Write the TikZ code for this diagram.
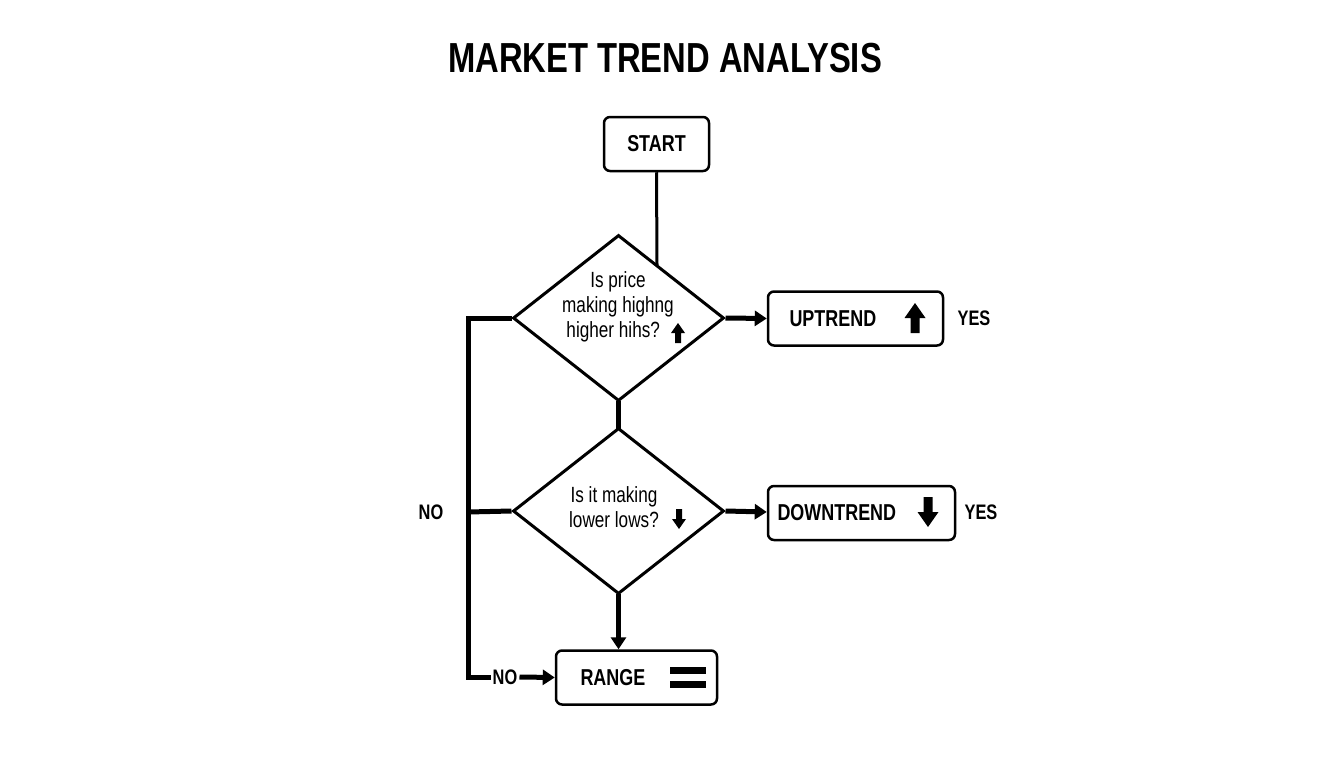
\documentclass[tikz,border=0pt]{standalone}
\usepackage{fontspec}
\setmainfont[FakeStretch=0.78]{Liberation Sans}
\usetikzlibrary{shapes.geometric,arrows.meta,calc}
\begin{document}
\begin{tikzpicture}[x=1pt,y=-1pt,
  box/.style={draw,line width=2.5pt,rounded corners=6pt,minimum height=54pt,inner sep=0pt},
  dia/.style={draw,line width=3pt,diamond,minimum width=211pt,minimum height=166pt,aspect=1.27,inner sep=0pt},
  conn/.style={line width=5pt},
  arr/.style={conn,-{Triangle[length=12pt,width=15pt]}},
  lbl/.style={font=\fontsize{23}{24}\selectfont\bfseries},
  small/.style={font=\fontsize{22}{25}\selectfont,align=center}]
\useasboundingbox (0,0) rectangle (1344,768);
\fill[white] (0,0) rectangle (1344,768);
\newcommand{\uparr}[3]{\fill (#1-#3*0.35,#2) -- (#1,#2-#3*0.5) -- (#1+#3*0.35,#2) -- (#1+#3*0.15,#2) -- (#1+#3*0.15,#2+#3*0.5) -- (#1-#3*0.15,#2+#3*0.5) -- (#1-#3*0.15,#2) -- cycle;}
\newcommand{\dnarr}[3]{\fill (#1-#3*0.35,#2) -- (#1,#2+#3*0.5) -- (#1+#3*0.35,#2) -- (#1+#3*0.15,#2) -- (#1+#3*0.15,#2-#3*0.5) -- (#1-#3*0.15,#2-#3*0.5) -- (#1-#3*0.15,#2) -- cycle;}
\node[font=\fontsize{42}{44}\selectfont\bfseries] (title) at (665,58) {MARKET TREND ANALYSIS};
\node[box,minimum width=105pt,lbl] (start) at (656.5,144) {START};
\node[dia] (d1) at (618.5,318) {};
\node[small] (q1) at (618,307) {Is price\\making highng\\higher hihs?\phantom{II}};
\uparr{678}{333}{20}
\node[dia] (d2) at (618.5,511) {};
\node[small] (q2) at (614,507) {Is it making\\ \ lower lows?\phantom{I}};
\dnarr{679}{519}{20}
\node[box,minimum width=175pt] (up) at (855.5,318.5) {};
\node[lbl,anchor=west] (upt) at (786,318.5) {UPTREND};
\uparr{915}{318}{30}
\node[box,minimum width=187pt] (down) at (861.5,513) {};
\node[lbl,anchor=west] (downt) at (774,513) {DOWNTREND};
\dnarr{928}{512}{30}
\node[box,minimum width=161pt] (range) at (636.5,677.5) {};
\node[lbl,anchor=west] (ranget) at (577,677.5) {RANGE};
\fill (670,667) rectangle (706,674);
\fill (670,681) rectangle (706,688);
\node[lbl,font=\fontsize{21}{22}\selectfont\bfseries] (yes1) at (974,318) {YES};
\node[lbl,font=\fontsize{21}{22}\selectfont\bfseries] (yes2) at (981,512) {YES};
\node[lbl,font=\fontsize{21}{22}\selectfont\bfseries] (no1) at (431,512) {NO};
\node[lbl,font=\fontsize{21}{22}\selectfont\bfseries,inner sep=2pt] (no2) at (505,677) {NO};
\coordinate (j) at (657,265);
\draw[line width=3pt] (start.south) -- (j);
\draw[conn] ($(d1.south)+(0,-2)$) -- ($(d2.north)+(0,2)$);
\draw[arr] (d1.east) -- (up.west);
\draw[arr] (d2.east) -- ($(down.west)+(0,-1)$);
\draw[arr] ($(d2.south)+(0,-2)$) -- (d2.south |- range.north);
\draw[conn,line join=miter] (d1.west) -- (468,318) -- (468,677) -- (no2.west);
\draw[conn] (d2.west) -- (468,512);
\draw[arr] (no2.east) -- (range.west);
\end{tikzpicture}
\end{document}
